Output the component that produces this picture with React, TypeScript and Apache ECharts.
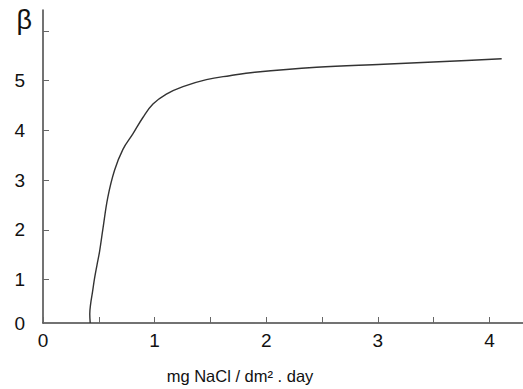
import React, { useEffect, useRef } from "react";
import * as echarts from "echarts";

const curveX = [0.423, 0.419, 0.426, 0.444, 0.462, 0.484, 0.507, 0.536, 0.581, 0.641, 0.716, 0.805, 0.895, 0.985, 1.105, 1.254, 1.464, 1.673, 1.897, 2.45, 3.05, 3.646, 4.109];
const curveY = [0.13, 0.31, 0.5, 0.76, 1.03, 1.3, 1.57, 2.01, 2.66, 3.2, 3.62, 3.93, 4.26, 4.53, 4.73, 4.88, 5.02, 5.1, 5.17, 5.27, 5.33, 5.39, 5.44];

const xTicks = [0, 0.5, 1, 1.5, 2, 2.5, 3, 3.5, 4];
const xLabels = [0, 1, 2, 3, 4];
const yTicks = [1, 2, 3, 4, 5, 6];
const yLabels = [0, 1, 2, 3, 4, 5];
const yAxisMin = 0.13;
const yAxisMax = 6.42;
const xAxisMax = 4.3;
const xAxisName = "mg NaCl / dm² . day";
const yAxisName = "β";

export default function App() {
  const ref = useRef<HTMLDivElement>(null);
  useEffect(() => {
    if (!ref.current) return;
    const chart = echarts.init(ref.current, null, { renderer: "svg" });
    const font = "Liberation Sans, Arial, sans-serif";
    chart.setOption({
      animation: false,
      backgroundColor: "#ffffff",
      grid: { left: 43, right: 0, top: 10, bottom: 66, containLabel: false },
      xAxis: {
        type: "value",
        min: 0,
        max: xAxisMax,
        name: xAxisName,
        nameLocation: "middle",
        nameGap: 44,
        nameTextStyle: { fontFamily: font, fontSize: 16.5, color: "#111", padding: [0, 86, 0, 0] },
        axisLine: { show: true, onZero: false, lineStyle: { color: "#444", width: 1.5 } },
        axisTick: { show: true, inside: true, length: 6, customValues: xTicks, lineStyle: { color: "#666", width: 1 } },
        axisLabel: {
          customValues: xLabels.map((v) => v),
          margin: 8,
          fontFamily: font,
          fontSize: 19,
          color: "#111",
          formatter: (v: number) => String(Math.round(v)),
        },
        splitLine: { show: false },
      },
      yAxis: {
        type: "value",
        min: yAxisMin,
        max: yAxisMax,
        name: yAxisName,
        nameLocation: "end",
        nameGap: 4,
        nameTextStyle: { fontFamily: font, fontSize: 27, color: "#111", align: "right", verticalAlign: "top", padding: [0, 11, 0, 0] },
        axisLine: { show: true, onZero: false, lineStyle: { color: "#444", width: 1.5 } },
        axisTick: { show: true, inside: true, length: 6, customValues: yTicks, lineStyle: { color: "#666", width: 1 } },
        axisLabel: {
          customValues: yLabels.map((v) => (v === 0 ? yAxisMin : v)),
          margin: 18,
          fontFamily: font,
          fontSize: 19,
          color: "#111",
          formatter: (v: number) => String(Math.round(v)),
        },
        splitLine: { show: false },
      },
      series: [
        {
          type: "line",
          data: curveX.map((x, i) => [x, curveY[i]]),
          showSymbol: false,
          smooth: 0.4,
          lineStyle: { color: "#333", width: 1.4 },
        },
      ],
    });
    return () => chart.dispose();
  }, []);
  return <div ref={ref} style={{ position: "fixed", left: 0, top: 0, width: 523, height: 389 }} />;
}
